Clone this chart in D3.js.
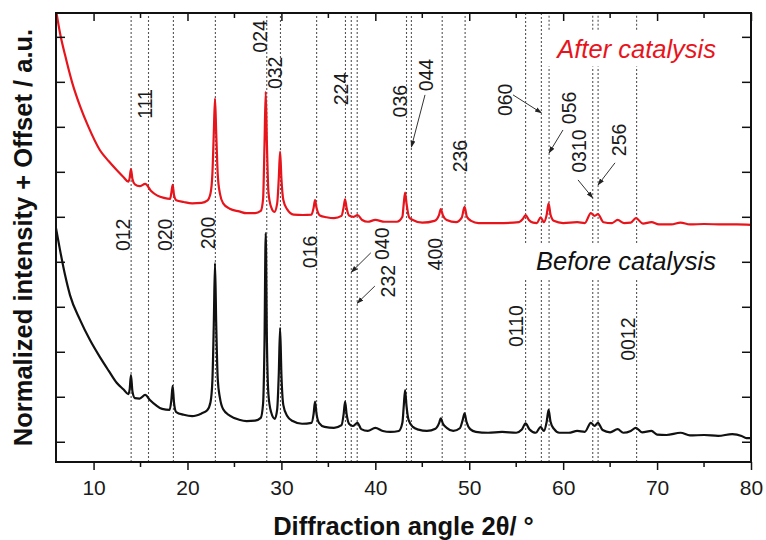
<!DOCTYPE html>
<html>
<head>
<meta charset="utf-8">
<script src="https://cdn.jsdelivr.net/npm/d3@7"></script>
<style>
  body { margin: 0; background: #fff; }
  svg { display: block; font-family: "Liberation Sans", Arial, sans-serif; }
</style>
</head>
<body>
<svg id="chart" width="766" height="540"></svg>
<script>
// XRD patterns: [2θ (°), normalised intensity + offset]
const beforeCatalysis = [
  [6.0, 4.75], [6.43, 4.26], [6.96, 3.71], [7.49, 3.26], [8.56, 2.71], [9.62, 2.26],
  [10.68, 1.88], [11.6, 1.58], [12.46, 1.31], [13.2, 1.16], [13.7, 1.06], [13.84, 1.16],
  [13.98, 1.48], [14.14, 1.12], [14.4, 0.97], [14.9, 0.96], [15.5, 1.04], [16.0, 0.93],
  [16.6, 0.82], [17.3, 0.73], [18.1, 0.71], [18.28, 0.92], [18.42, 1.24], [18.57, 0.86],
  [18.8, 0.66], [19.6, 0.60], [20.5, 0.57], [21.5, 0.63], [22.1, 0.70], [22.45, 0.88],
  [22.65, 1.35], [22.8, 2.6], [22.93, 3.97], [23.06, 2.6], [23.22, 1.4], [23.45, 0.98],
  [23.8, 0.72], [24.5, 0.58], [25.5, 0.49], [26.3, 0.46], [27.2, 0.47], [27.8, 0.53],
  [28.05, 0.85], [28.2, 2.2], [28.33, 4.64], [28.46, 2.2], [28.62, 1.05], [28.9, 0.66],
  [29.3, 0.51], [29.55, 0.72], [29.72, 1.5], [29.86, 2.53], [30.0, 1.5], [30.2, 0.82],
  [30.6, 0.58], [31.2, 0.46], [32.2, 0.40], [33.2, 0.42], [33.43, 0.62], [33.58, 0.89],
  [33.74, 0.62], [34.0, 0.42], [34.6, 0.33], [35.6, 0.31], [36.4, 0.37], [36.63, 0.62],
  [36.78, 0.89], [36.94, 0.62], [37.2, 0.40], [37.6, 0.35], [38.1, 0.42], [38.5, 0.28],
  [39.2, 0.24], [40.0, 0.31], [40.8, 0.24], [41.6, 0.22], [42.5, 0.24], [42.88, 0.42],
  [43.03, 0.8], [43.17, 1.15], [43.32, 0.8], [43.55, 0.48], [44.0, 0.33], [44.6, 0.27],
  [45.5, 0.24], [46.4, 0.29], [46.8, 0.42], [46.97, 0.52], [47.2, 0.40], [47.6, 0.31],
  [48.3, 0.24], [49.0, 0.30], [49.3, 0.48], [49.5, 0.63], [49.7, 0.45], [50.1, 0.28],
  [50.7, 0.22], [52.0, 0.20], [53.5, 0.22], [55.0, 0.20], [55.6, 0.27], [56.0, 0.41],
  [56.4, 0.28], [57.1, 0.20], [57.6, 0.33], [57.95, 0.24], [58.25, 0.45], [58.45, 0.71],
  [58.65, 0.45], [59.0, 0.29], [59.6, 0.20], [60.6, 0.20], [61.5, 0.24], [62.3, 0.22],
  [62.95, 0.42], [63.35, 0.35], [63.7, 0.42], [64.2, 0.26], [65.0, 0.21], [65.8, 0.28],
  [66.4, 0.20], [67.2, 0.24], [67.74, 0.31], [68.4, 0.21], [69.4, 0.24], [70.0, 0.16],
  [71.0, 0.15], [72.5, 0.20], [73.5, 0.14], [75.0, 0.15], [76.5, 0.13], [78.0, 0.17],
  [79.0, 0.13], [79.5, 0.08], [80.0, 0.08]
];

const afterCatalysis = [
  [6.0, 9.6], [6.43, 9.08], [6.96, 8.60], [7.7, 8.00], [8.56, 7.46], [9.41, 7.02],
  [10.68, 6.48], [11.6, 6.24], [12.46, 6.04], [13.2, 5.88], [13.7, 5.78], [13.84, 5.86],
  [13.98, 6.06], [14.14, 5.84], [14.4, 5.72], [14.9, 5.68], [15.5, 5.73], [16.1, 5.58],
  [16.8, 5.47], [17.5, 5.42], [18.15, 5.40], [18.28, 5.53], [18.42, 5.71], [18.57, 5.48],
  [18.8, 5.37], [19.6, 5.33], [20.5, 5.30], [21.5, 5.31], [22.1, 5.36], [22.45, 5.52],
  [22.65, 5.95], [22.8, 6.85], [22.93, 7.63], [23.06, 6.85], [23.22, 5.95], [23.45, 5.52],
  [23.8, 5.30], [24.5, 5.18], [25.5, 5.12], [26.3, 5.08], [27.2, 5.08], [27.8, 5.13],
  [28.05, 5.4], [28.2, 6.6], [28.33, 7.78], [28.46, 6.6], [28.62, 5.55], [28.9, 5.22],
  [29.25, 5.11], [29.55, 5.3], [29.72, 5.85], [29.86, 6.45], [30.0, 5.85], [30.2, 5.38],
  [30.6, 5.17], [31.3, 5.05], [32.3, 5.04], [33.2, 5.05], [33.43, 5.2], [33.58, 5.37],
  [33.74, 5.2], [34.1, 5.03], [34.8, 4.99], [35.6, 4.97], [36.4, 5.02], [36.63, 5.22],
  [36.78, 5.39], [36.94, 5.2], [37.2, 5.03], [37.7, 5.00], [38.1, 5.04], [38.6, 4.93],
  [39.2, 4.89], [40.0, 4.93], [41.0, 4.89], [42.3, 4.89], [42.88, 5.0], [43.03, 5.3],
  [43.17, 5.54], [43.32, 5.3], [43.6, 4.99], [44.0, 4.93], [45.0, 4.87], [46.3, 4.91],
  [46.8, 5.05], [46.97, 5.17], [47.2, 5.03], [47.6, 4.93], [48.6, 4.88], [49.2, 4.98],
  [49.5, 5.22], [49.75, 5.0], [50.2, 4.91], [51.0, 4.86], [53.0, 4.86], [55.3, 4.88],
  [55.7, 4.95], [56.0, 5.04], [56.35, 4.93], [56.8, 4.87], [57.2, 4.86], [57.6, 4.99],
  [57.95, 4.88], [58.25, 5.05], [58.45, 5.30], [58.65, 5.05], [59.0, 4.91], [60.0, 4.86],
  [61.5, 4.88], [62.3, 4.86], [62.95, 5.08], [63.35, 5.02], [63.7, 5.06], [64.3, 4.88],
  [65.2, 4.86], [65.8, 4.93], [66.5, 4.86], [67.2, 4.87], [67.74, 4.97], [68.5, 4.85],
  [69.4, 4.88], [70.2, 4.83], [71.5, 4.83], [72.5, 4.87], [73.5, 4.83], [75.0, 4.84],
  [77.0, 4.83], [78.5, 4.83], [80.0, 4.82]
];

// Reference reflections (2θ, °) and their hkl indices
const reflectionAngles = [14.0, 15.85, 18.5, 22.97, 28.44, 29.9, 33.75, 36.82, 37.44, 38.07,
                          43.32, 43.84, 47.12, 49.56, 56.0, 57.68, 58.5, 63.15, 63.72, 67.82];
const reflectionHkl = ["012", "111", "020", "200", "024", "032", "016", "224", "040", "232",
                       "036", "044", "400", "236", "0110", "060", "056", "0310", "256", "0012"];

const xTickValues = [10, 20, 30, 40, 50, 60, 70, 80];
const xMinorTicks = [15, 25, 35, 45, 55, 65, 75];
const yTickValues = [0, 1, 2, 3, 4, 5, 6, 7, 8, 9];
const seriesNames = ["After catalysis", "Before catalysis"];

// Label placement (axis units): label centre, and for pointer labels the arrow tail and tip height
const labelLayout = {
  "012":  { at: [13.13, 4.60] },
  "111":  { at: [15.48, 7.51] },
  "020":  { at: [17.61, 4.60] },
  "200":  { at: [22.18, 4.64] },
  "024":  { at: [27.72, 9.01] },
  "032":  { at: [29.32, 8.20] },
  "016":  { at: [33.04, 4.22] },
  "224":  { at: [36.35, 7.84] },
  "040":  { at: [40.71, 4.40], tail: [39.52, 4.20], tipY: 3.77 },
  "232":  { at: [41.35, 3.57], tail: [39.95, 3.46], tipY: 3.08 },
  "036":  { at: [42.63, 7.57] },
  "044":  { at: [45.40, 8.15], tail: [45.29, 7.71], tipY: 6.55 },
  "400":  { at: [46.35, 4.17] },
  "236":  { at: [49.02, 6.35] },
  "060":  { at: [53.81, 7.60], tail: [54.66, 7.71], tipY: 7.31 },
  "0110": { at: [54.98, 2.57] },
  "056":  { at: [60.62, 7.42], tail: [59.98, 6.93], tipY: 6.42 },
  "0310": { at: [61.69, 6.46], tail: [61.58, 5.82], tipY: 5.42 },
  "256":  { at: [65.95, 6.71], tail: [65.52, 6.20], tipY: 5.71 },
  "0012": { at: [66.90, 2.28] }
};
// Breaks in the reflection guides where the series captions sit
const upperBreak = { from: 58.4, span: [8.34, 9.16] };
const lowerBreak = { from: 55.9, span: [3.60, 4.42] };

const svg = d3.select("#chart");
const margin = { left: 56, right: 15, top: 13, bottom: 78 };
const W = 766, H = 540;

const x = d3.scaleLinear().domain([6, 80]).range([margin.left, W - margin.right]);
const y = d3.scaleLinear().domain([-0.45, 9.53]).range([H - margin.bottom, margin.top]);

const defs = svg.append("defs");
defs.append("clipPath").attr("id", "plot-clip")
  .append("rect")
  .attr("x", x.range()[0]).attr("y", y.range()[1])
  .attr("width", x.range()[1] - x.range()[0])
  .attr("height", y.range()[0] - y.range()[1]);

defs.append("marker")
  .attr("id", "arrow").attr("viewBox", "0 0 10 10")
  .attr("refX", 9).attr("refY", 5)
  .attr("markerWidth", 7).attr("markerHeight", 7)
  .attr("markerUnits", "userSpaceOnUse")
  .attr("orient", "auto")
  .append("path").attr("d", "M0,1.5 L10,5 L0,8.5 Z").attr("fill", "#222");

// Reflection guide lines (dotted), with breaks around the captions
const [yLo, yHi] = y.domain();
const guideSegments = [];
reflectionAngles.forEach(a => {
  let segs = [[yLo, yHi]];
  [upperBreak, lowerBreak].forEach(br => {
    if (a >= br.from) {
      const next = [];
      segs.forEach(([s0, s1]) => {
        if (br.span[1] <= s0 || br.span[0] >= s1) { next.push([s0, s1]); return; }
        if (br.span[0] > s0) next.push([s0, br.span[0]]);
        if (br.span[1] < s1) next.push([br.span[1], s1]);
      });
      segs = next;
    }
  });
  segs.forEach(s => guideSegments.push({ a, s }));
});

svg.append("g").attr("class", "guides")
  .selectAll("line").data(guideSegments).join("line")
  .attr("x1", d => x(d.a)).attr("x2", d => x(d.a))
  .attr("y1", d => y(d.s[0])).attr("y2", d => y(d.s[1]))
  .attr("stroke", "#555").attr("stroke-width", 1.1)
  .attr("stroke-dasharray", "2,2");

// Diffraction curves
const line = d3.line().x(d => x(d[0])).y(d => y(d[1])).curve(d3.curveMonotoneX);
const curves = svg.append("g").attr("clip-path", "url(#plot-clip)");
curves.append("path").datum(beforeCatalysis)
  .attr("d", line).attr("fill", "none").attr("stroke", "#111").attr("stroke-width", 2.2)
  .attr("stroke-linejoin", "round");
curves.append("path").datum(afterCatalysis)
  .attr("d", line).attr("fill", "none").attr("stroke", "#e8141c").attr("stroke-width", 2.2)
  .attr("stroke-linejoin", "round");

// hkl labels and pointer arrows
const labels = svg.append("g").attr("font-size", 19.5).attr("fill", "#1a1a1a");
reflectionHkl.forEach((hkl, i) => {
  const L = labelLayout[hkl];
  const cx = x(L.at[0]), cy = y(L.at[1]);
  labels.append("text")
    .attr("transform", `translate(${cx + 7},${cy}) rotate(-90)`)
    .attr("text-anchor", "middle")
    .text(hkl);
  if (L.tail) {
    labels.append("line")
      .attr("x1", x(L.tail[0])).attr("y1", y(L.tail[1]))
      .attr("x2", x(reflectionAngles[i])).attr("y2", y(L.tipY))
      .attr("stroke", "#333").attr("stroke-width", 1)
      .attr("marker-end", "url(#arrow)");
  }
});

// Series captions
svg.append("text")
  .attr("x", 716).attr("y", 58).attr("text-anchor", "end")
  .attr("font-size", 25.5).attr("font-style", "italic").attr("fill", "#e8141c")
  .text(seriesNames[0]);
svg.append("text")
  .attr("x", 716).attr("y", 270).attr("text-anchor", "end")
  .attr("font-size", 25.5).attr("font-style", "italic").attr("fill", "#111")
  .text(seriesNames[1]);

// Axes
const axisColor = "#111";
const axisBottomG = svg.append("g").attr("transform", `translate(0,${y.range()[0]})`)
  .call(d3.axisBottom(x).tickValues(xTickValues).tickSize(8).tickPadding(10).tickFormat(d3.format("d")));
axisBottomG.append("g").selectAll("line").data(xMinorTicks).join("line")
  .attr("x1", d => x(d)).attr("x2", d => x(d)).attr("y1", 0).attr("y2", 5)
  .attr("stroke", axisColor).attr("stroke-width", 1.5);

const axisTopG = svg.append("g").attr("transform", `translate(0,${y.range()[1]})`)
  .call(d3.axisBottom(x).tickValues(xTickValues).tickSize(8).tickFormat(""));
axisTopG.append("g").selectAll("line").data(xMinorTicks).join("line")
  .attr("x1", d => x(d)).attr("x2", d => x(d)).attr("y1", 0).attr("y2", 5)
  .attr("stroke", axisColor).attr("stroke-width", 1.5);

const axisLeftG = svg.append("g").attr("transform", `translate(${x.range()[0]},0)`)
  .call(d3.axisRight(y).tickValues(yTickValues).tickSize(9).tickFormat(""));
const axisRightG = svg.append("g").attr("transform", `translate(${x.range()[1]},0)`)
  .call(d3.axisLeft(y).tickValues(yTickValues).tickSize(9).tickFormat(""));

[axisBottomG, axisTopG, axisLeftG, axisRightG].forEach(g => {
  g.select(".domain").remove();
  g.selectAll(".tick line").attr("stroke", axisColor).attr("stroke-width", 1.5);
});
axisBottomG.selectAll(".tick text")
  .attr("font-size", 21).attr("fill", "#1a1a1a")
  .attr("font-family", "'Liberation Sans', Arial, sans-serif");

svg.append("rect")
  .attr("x", x.range()[0]).attr("y", y.range()[1])
  .attr("width", x.range()[1] - x.range()[0])
  .attr("height", y.range()[0] - y.range()[1])
  .attr("fill", "none").attr("stroke", axisColor).attr("stroke-width", 2);

// Axis titles
svg.append("text")
  .attr("x", (x.range()[0] + x.range()[1]) / 2).attr("y", 535)
  .attr("text-anchor", "middle").attr("font-size", 25.5).attr("font-weight", "bold")
  .attr("fill", "#111")
  .text("Diffraction angle 2θ/ °");
svg.append("text")
  .attr("transform", `translate(32,${(y.range()[0] + y.range()[1]) / 2}) rotate(-90)`)
  .attr("text-anchor", "middle").attr("font-size", 25.5).attr("font-weight", "bold")
  .attr("fill", "#111")
  .text("Normalized intensity + Offset / a.u.");
</script>
</body>
</html>
